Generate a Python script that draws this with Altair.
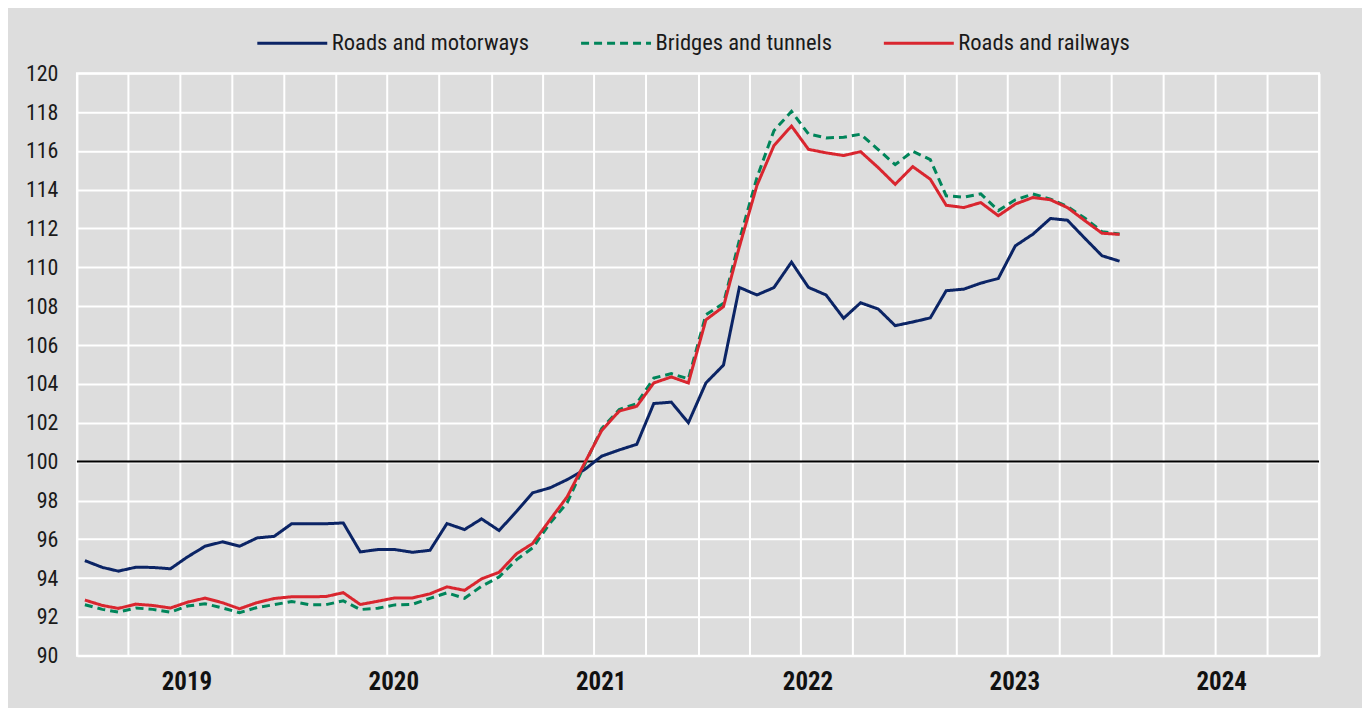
import altair as alt
import pandas as pd

series = ["Roads and motorways", "Bridges and tunnels", "Roads and railways"]
colors = ["#0b2465", "#00855a", "#d9262f"]
dashes = [[1, 0], [8, 5], [1, 0]]

roads_motorways = [94.9, 94.55, 94.36, 94.56, 94.55, 94.48, 95.09, 95.64, 95.87, 95.64, 96.07, 96.15,
                   96.8, 96.8, 96.8, 96.84, 95.35, 95.47, 95.47, 95.33, 95.43, 96.81, 96.5, 97.05,
                   96.45, 97.44, 98.39, 98.65, 99.07, 99.59, 100.28, 100.6, 100.89, 102.99, 103.06, 102.0,
                   104.05, 104.97, 108.97, 108.58, 108.96, 110.27, 108.97, 108.58, 107.38, 108.18, 107.86, 107.0,
                   107.19, 107.4, 108.8, 108.88, 109.19, 109.43, 111.11, 111.71, 112.52, 112.43, 111.49, 110.6,
                   110.32]
bridges_tunnels = [92.63, 92.39, 92.25, 92.46, 92.39, 92.25, 92.56, 92.68, 92.46, 92.22, 92.49, 92.63,
                   92.8, 92.63, 92.63, 92.83, 92.38, 92.45, 92.62, 92.65, 92.96, 93.24, 92.96, 93.58,
                   94.06, 94.95, 95.55, 96.84, 97.87, 99.85, 101.7, 102.68, 102.99, 104.3, 104.53, 104.26,
                   107.56, 108.15, 111.4, 114.62, 117.04, 118.03, 116.87, 116.67, 116.7, 116.86, 116.07, 115.29,
                   115.98, 115.55, 113.69, 113.62, 113.79, 112.93, 113.48, 113.78, 113.52, 113.14, 112.53, 111.84,
                   111.72]
roads_railways = [92.87, 92.59, 92.44, 92.66, 92.59, 92.46, 92.76, 92.97, 92.73, 92.42, 92.74, 92.95,
                  93.04, 93.04, 93.05, 93.25, 92.64, 92.81, 92.98, 92.98, 93.19, 93.55, 93.37, 93.96,
                  94.3, 95.26, 95.78, 97.01, 98.18, 99.93, 101.6, 102.6, 102.85, 104.05, 104.36, 104.05,
                  107.3, 107.98, 111.06, 114.22, 116.27, 117.28, 116.08, 115.9, 115.76, 115.96, 115.14, 114.28,
                  115.19, 114.54, 113.2, 113.08, 113.34, 112.66, 113.26, 113.6, 113.48, 113.08, 112.4, 111.76,
                  111.7]

dates = [f"{2019 + i // 12}-{i % 12 + 1:02d}-15" for i in range(61)]
y_ticks = list(range(90, 121, 2))
reference_value = [100]

rows = []
for name, vals in zip(series, [roads_motorways, bridges_tunnels, roads_railways]):
    for d, v in zip(dates, vals):
        rows.append({"date": d, "value": v, "series": name})
df = pd.DataFrame(rows)

FONT = "Roboto Condensed, Liberation Sans Narrow, Arial Narrow, sans-serif"
W, H = 1243, 583

quarters = [alt.DateTime(year=y, month=m, date=1, utc=True) for y in range(2019, 2025) for m in (1, 4, 7, 10)]
quarters.append(alt.DateTime(year=2025, month=1, date=1, utc=True))

x_scale = alt.Scale(type="utc",
                    domain=[alt.DateTime(year=2019, month=1, date=1, utc=True),
                            alt.DateTime(year=2025, month=1, date=1, utc=True)],
                    nice=False)
y_scale = alt.Scale(domain=[90, 120], nice=False, zero=False)

y_axis = alt.Axis(values=y_ticks, ticks=False, domain=False, grid=True,
                  gridColor="white", gridWidth=2, labelFontSize=22, labelFont=FONT,
                  labelColor="#1a1a1a", labelPadding=19, labelOverlap=False,
                  labelFlush=False, labelBound=False)

legend = alt.Legend(orient="none", legendX=179, legendY=-67, direction="horizontal", title=None,
                    symbolType="stroke", symbolSize=4900, symbolStrokeWidth=3,
                    labelFontSize=22.6, labelFont=FONT, labelColor="#1a1a1a",
                    columnPadding=45, labelOffset=3, labelLimit=400)

lines = alt.Chart(df).mark_line(strokeWidth=3).encode(
    x=alt.X("date:T", scale=x_scale, title=None,
            axis=alt.Axis(values=quarters, ticks=False, domain=False, grid=True,
                          gridColor="white", gridWidth=2,
                          labelExpr="utcmonth(datum.value) == 0 && utcyear(datum.value) < 2025 ? '' + utcyear(datum.value) : ''",
                          labelOffset=W / 12 + 6, labelFontSize=25, labelFontWeight="bold",
                          labelFont=FONT, labelColor="#111111", labelPadding=14,
                          labelOverlap=False, labelFlush=False, labelBound=False)),
    y=alt.Y("value:Q", scale=y_scale, title=None, axis=y_axis),
    color=alt.Color("series:N", scale=alt.Scale(domain=series, range=colors), legend=legend, sort=series),
    strokeDash=alt.StrokeDash("series:N", scale=alt.Scale(domain=series, range=dashes), legend=legend, sort=series),
)

rule = alt.Chart(pd.DataFrame({"v": reference_value})).mark_rule(color="black", strokeWidth=2).encode(
    y=alt.Y("v:Q", scale=y_scale, title=None, axis=y_axis)
)

chart = alt.layer(rule, lines).properties(
    width=W, height=H,
    padding={"left": 69, "top": 65, "right": 43, "bottom": 52},
    autosize=alt.AutoSizeParams(type="none"),
    background="#dddddd",
).configure_view(stroke="white", strokeWidth=2, fill="#dddddd").configure_axis(labelOverlap=False)

chart.save("out.html", embed_options={"renderer": "svg", "actions": False})
